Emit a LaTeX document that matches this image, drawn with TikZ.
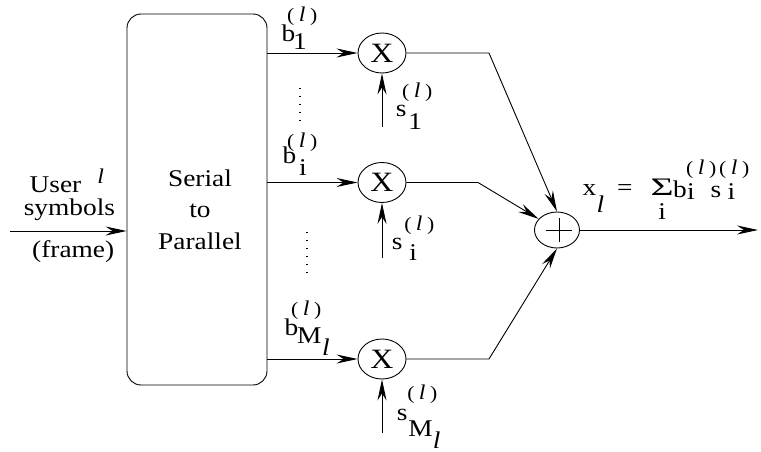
\documentclass[tikz,border=0pt]{standalone}
\usepackage{fontspec}
\setmainfont{Liberation Serif}[FakeStretch=1.14]
\usetikzlibrary{arrows.meta,shapes.geometric}
\newcommand\supf{\fontsize{19}{21}\selectfont}
\newcommand\pl{{\supf(\kern4.5pt{\fontsize{21}{22}\selectfont\itshape l}\kern4.5pt)}}
\newcommand\itl{\textit{l}}
% piece placed at dx (from the end of the main letter) and dy (up), taking no width
\newcommand\pc[3]{\rlap{\kern#1\raisebox{#2}{#3}}}
\tikzset{
  txt/.style={inner sep=0pt, anchor=base west, font=\fontsize{24}{28}\selectfont},
  arr/.style={line width=0.9pt, -{Stealth[length=21pt,width=9pt,inset=7pt]}},
  mult/.style={draw, line width=0.9pt, ellipse, inner sep=0pt, minimum width=48pt, minimum height=40pt, font=\fontsize{28}{30}\selectfont},
  adder/.style={draw, line width=0.9pt, ellipse, inner sep=0pt, minimum width=45pt, minimum height=36pt},
  spbox/.style={draw, line width=0.9pt, rectangle, rounded corners=14pt, minimum width=140pt, minimum height=371pt, inner sep=0pt},
  dots/.style={line width=1.1pt, dash pattern=on 1.2pt off 6.8pt},
  plusbar/.style={line width=1pt}
}
\begin{document}
\begin{tikzpicture}[x=1pt,y=-1pt]
\useasboundingbox (0,0) rectangle (761,452);
% serial to parallel box
\node[spbox] (box) at (197,199.5) {};
\node[inner sep=0pt, align=center, anchor=base, font=\fontsize{24}{31.5}\selectfont] (sp) at (200,249) {Serial\\to\\Parallel};
% input
\coordinate (in) at (10,231);
\node[txt] (user) at (29.5,192) {User\pc{16pt}{9pt}{{\fontsize{21}{22}\selectfont\itshape l}}};
\node[txt] (symb) at (23.6,215) {symbols};
\node[txt] (frame) at (32,257) {(frame)};
\draw[arr] (in) -- (box.west |- in);
% multipliers
\node[mult] (m1) at (382,53) {X};
\node[mult] (mi) at (382,182.5) {X};
\node[mult] (mM) at (382,359) {X};
\draw[arr] (box.east |- m1) -- (m1.west);
\draw[arr] (box.east |- mi) -- (mi.west);
\draw[arr] (box.east |- mM) -- (mM.west);
% b labels
\node[txt] (lb1) at (281.5,42) {b\pc{-8.2pt}{20.5pt}{\pl}\pc{-2.2pt}{-8pt}{1}};
\node[txt] (lbi) at (282.5,163) {b\pc{-9.2pt}{15.5pt}{\pl}\pc{2.8pt}{-12pt}{i}};
\node[txt] (lbM) at (284.5,335) {b\pc{-7.2pt}{19.5pt}{\pl}\pc{-1.2pt}{-8pt}{M}\pc{23.8pt}{-20pt}{\itl}};
% dotted
\coordinate (d1a) at (300,88); \coordinate (d1b) at (300,124);
\coordinate (d2a) at (307,232); \coordinate (d2b) at (307,273);
\draw[dots] (d1a) -- (d1b);
\draw[dots] (d2a) -- (d2b);
% s inputs
\coordinate (s1) at (382,127);
\coordinate (si) at (382,258);
\coordinate (sM) at (382,433);
\draw[arr] (s1) -- (m1.south);
\draw[arr] (si) -- (mi.south);
\draw[arr] (sM) -- (mM.south);
\node[txt] (ls1) at (395.6,117) {s\pc{-4.2pt}{19.5pt}{\pl}\pc{1.8pt}{-13pt}{1}};
\node[txt] (lsi) at (391.6,249) {s\pc{1.8pt}{18.5pt}{\pl}\pc{6.8pt}{-11pt}{i}};
\node[txt] (lsM) at (396.6,420.5) {s\pc{-0.2pt}{21.5pt}{\pl}\pc{0.8pt}{-16pt}{M}\pc{25.4pt}{-27.5pt}{\itl}};
% adder
\node[adder] (add) at (557,230) {};
\draw[plusbar] ([xshift=-11pt]add.center) -- ([xshift=15pt]add.center);
\draw[plusbar] ([xshift=2pt,yshift=-12pt]add.center) -- ([xshift=2pt,yshift=12pt]add.center);
\coordinate (k1) at (489,53);
\coordinate (k2) at (478,182.5);
\coordinate (k3) at (489,359);
\draw[arr] (m1.east) -- (k1) -- (add.north);
\draw[arr] (mi.east) -- (k2) -- (add);
\draw[arr] (mM.east) -- (k3) -- (add.south);
\coordinate (out) at (758,230);
\draw[arr] (add.east) -- (out);
% formula
\node[txt] (form) at (582.5,195) {x\pc{0.3pt}{-17pt}{\itl}\pc{20.8pt}{0pt}{=}\pc{55.3pt}{0pt}{\makebox[21pt]{\scalebox{1.45}[1.05]{Σ}}}\pc{55.3pt}{-24pt}{\makebox[21pt]{i}}\pc{76.8pt}{-2pt}{b}\pc{89.8pt}{20.5pt}{\pl}\pc{90.8pt}{-4pt}{i}\pc{114.3pt}{-2pt}{s}\pc{122.8pt}{20.5pt}{\pl}\pc{131.3pt}{-4pt}{i}};
\end{tikzpicture}
\end{document}
